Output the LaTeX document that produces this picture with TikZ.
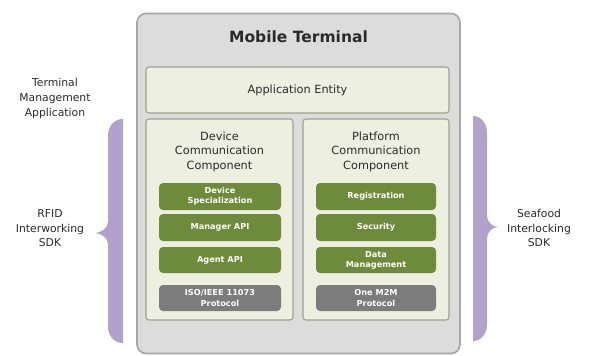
\documentclass[tikz,border=0pt]{standalone}
\usepackage{fontspec}
\setmainfont{DejaVu Sans}
\definecolor{outerfill}{HTML}{DCDCDC}
\definecolor{outerline}{HTML}{A6A6A6}
\definecolor{panelfill}{HTML}{EDF0E0}
\definecolor{panelline}{HTML}{9EA190}
\definecolor{leafgreen}{HTML}{6E8A3B}
\definecolor{protogray}{HTML}{7C7C7C}
\definecolor{bracepurple}{HTML}{B1A2CB}
\definecolor{labeltext}{HTML}{2A2A2A}
\tikzset{
  outerbox/.style={rounded corners=9pt, fill=outerfill, draw=outerline, line width=1.6pt},
  panelbox/.style={rounded corners=3pt, fill=panelfill, draw=panelline, line width=1.1pt, inner sep=0pt},
  greenbox/.style={rounded corners=4pt, fill=leafgreen, text=white, align=center, inner sep=0pt,
    font=\bfseries\fontsize{8.2}{10.2}\selectfont},
  protobox/.style={greenbox, fill=protogray},
  headtext/.style={align=center, text=labeltext, font=\fontsize{11.3}{14.6}\selectfont},
  sidetext/.style={align=center, text=labeltext, font=\fontsize{10.8}{14.6}\selectfont},
  bracefill/.style={fill=bracepurple}
}
\begin{document}
\begin{tikzpicture}[x=1pt,y=-1pt]
\useasboundingbox (0,0) rectangle (590,356);
% outer box
\node[outerbox, minimum width=323pt, minimum height=340pt] (mt) at (298.5,183.5) {};
\node[text=labeltext, font=\bfseries\fontsize{15.5}{18}\selectfont] (title) at (298.5,37) {Mobile Terminal};
% application entity
\node[panelbox, minimum width=303pt, minimum height=46pt] (ae) at (297.5,90) {};
\node[headtext] (aet) at (ae.center) {Application Entity};
% component panels
\node[panelbox, minimum width=147pt, minimum height=201pt] (dcc) at (219.5,219.5) {};
\node[panelbox, minimum width=146pt, minimum height=201pt] (pcc) at (376,219.5) {};
\node[headtext] (dcct) at (219.5,151.5) {Device\\Communication\\Component};
\node[headtext] (pcct) at (376,151.5) {Platform\\Communication\\Component};
% left column
\node[greenbox, minimum width=122pt, minimum height=27pt] (ds) at (220,196.5) {Device\\Specialization};
\node[greenbox, minimum width=122pt, minimum height=27pt] (mapi) at (220,227.5) {Manager API};
\node[greenbox, minimum width=122pt, minimum height=26pt] (aapi) at (220,260) {Agent API};
\node[protobox, minimum width=122pt, minimum height=26pt] (iso) at (220,298) {ISO/IEEE 11073\\Protocol};
% right column
\node[greenbox, minimum width=120pt, minimum height=27pt] (reg) at (376,196.5) {Registration};
\node[greenbox, minimum width=120pt, minimum height=27pt] (sec) at (376,227.5) {Security};
\node[greenbox, minimum width=120pt, minimum height=26pt] (dm) at (376,260) {Data\\Management};
\node[protobox, minimum width=120pt, minimum height=26pt] (m2m) at (376,298) {One M2M\\Protocol};
% side labels
\node[sidetext] (tma) at (55,98.5) {Terminal\\Management\\Application};
\node[sidetext] (rfid) at (50,228.5) {RFID\\Interworking\\SDK};
\node[sidetext] (sea) at (539,228) {Seafood\\Interlocking\\SDK};
% braces
\fill[bracefill] (123,119) .. controls (114,119) and (108,126) .. (108,136) -- (108,222)
  .. controls (108,228) and (101,233) .. (95,233)
  .. controls (101,233) and (108,238) .. (108,244) -- (108,326)
  .. controls (108,336) and (114,343) .. (123,343) -- cycle;
\fill[bracefill] (473,116) .. controls (481,116) and (487,123) .. (487,133) -- (487,216)
  .. controls (487,222) and (493,227) .. (498,227)
  .. controls (493,227) and (487,232) .. (487,238) -- (487,324)
  .. controls (487,334) and (481,341) .. (473,341) -- cycle;
\end{tikzpicture}
\end{document}
